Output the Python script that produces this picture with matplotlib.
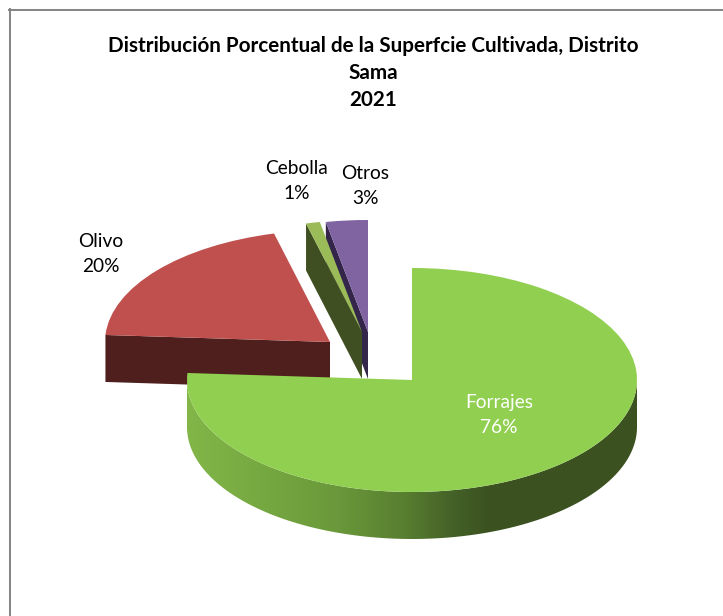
import numpy as np
import matplotlib
matplotlib.use("Agg")
import matplotlib.pyplot as plt
from matplotlib.colors import LinearSegmentedColormap
from matplotlib.patches import Polygon

categories = ["Forrajes", "Olivo", "Cebolla", "Otros"]
values = [76, 20, 1, 3]
title_lines = ["Distribución Porcentual de la Superfcie Cultivada, Distrito", "Sama", "2021"]

top_colors = ["#90CF4F", "#C0504D", "#9BBB59", "#8064A2"]
side_colors = [None, "#4F1F1E", "#404F22", "#33264A"]

W, H = 723, 616
# pixel geometry of the big slice
cx, cy = 412, 380
rx, ry = 225, 112
depth = 47 / ry

# how far each slice is pulled out, in pixels
pull = [(0, 0), (-82, -38), (-50, -48), (-44, -48)]
label_pos = [(499, 415), (101, 254), (297, 181), (365, 186)]
label_colors = ["white", "black", "black", "black"]


def px(x, y):
    return (x - cx) / rx, (cy - y) / ry


plt.rcParams["font.family"] = ["Lato", "DejaVu Sans"]
fig = plt.figure(figsize=(W / 100, H / 100), dpi=100, facecolor="white")
ax = fig.add_axes([0, 0, 1, 1])

wedges, _ = ax.pie(values, colors=top_colors, startangle=90, counterclock=False, radius=1)

# back to front
order = {3: 3, 2: 6, 1: 9, 0: 14}
for i, w in enumerate(wedges):
    dx, dy = pull[i][0] / rx, -pull[i][1] / ry
    w.set_center((dx, dy))
    w.set_zorder(order[i] + 1)
    w.set_linewidth(0)
    if side_colors[i] is None:
        continue
    # flat cut face of the pulled out slice
    a = np.deg2rad(w.theta2)
    ox, oy = dx + np.cos(a), dy + np.sin(a)
    face = Polygon([(ox, oy), (dx, dy), (dx, dy - depth), (ox, oy - depth)],
                   closed=True, facecolor=side_colors[i], linewidth=0, zorder=order[i])
    ax.add_patch(face)

# rim of the big slice with its gradient
t = np.linspace(np.pi, 2 * np.pi, 200)
rim_x = np.cos(t)
rim_y = np.sin(t)
rim = Polygon(np.r_[np.c_[rim_x, rim_y], np.c_[rim_x[::-1], rim_y[::-1] - depth]],
              closed=True, facecolor="none", linewidth=0, zorder=13)
ax.add_patch(rim)
cmap = LinearSegmentedColormap.from_list(
    "rim", [(0, "#82B648"), (0.25, "#76A841"), (0.5, "#6A983A"), (0.72, "#587E30"), (0.88, "#446128"), (1, "#3B5220")])
grad = np.clip((np.linspace(187, 637, 450) - 187) / (490 - 187), 0, 1)[None, :]
img = ax.imshow(grad, extent=(-1, 1, -1 - depth, 0), cmap=cmap, vmin=0, vmax=1, aspect="auto", zorder=13)
img.set_clip_path(rim)

ax.set_xlim(px(0, 0)[0], px(W, 0)[0])
ax.set_ylim(px(0, H)[1], px(0, 0)[1])
ax.set_axis_off()

for name, val, (lx, ly), col in zip(categories, values, label_pos, label_colors):
    x, y = px(lx, ly)
    ax.text(x, y, f"{name}\n{val}%", color=col, fontsize=13.8, ha="center", va="center",
            linespacing=1.6, zorder=20)

for line, y in zip(title_lines, [46, 73, 100]):
    x0, y0 = px(373.5, y)
    ax.text(x0, y0, line, fontsize=14.9, fontweight="bold", color="black", ha="center", va="center", zorder=20)

# chart frame, only left and top fall inside the picture
fig.add_artist(plt.Line2D([10 / W, 10 / W], [0, 1 - 9 / H], color="#868686", lw=1.45))
fig.add_artist(plt.Line2D([9 / W, 1], [1 - 10 / H, 1 - 10 / H], color="#868686", lw=1.45))

fig.savefig("out.png", dpi=100)
